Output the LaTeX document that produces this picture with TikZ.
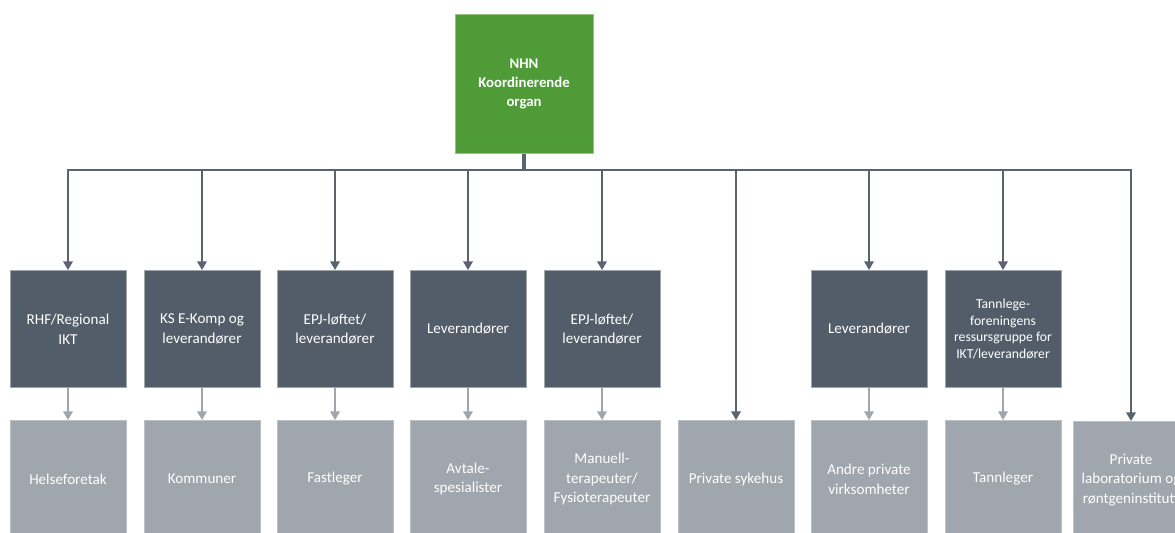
\documentclass[tikz,border=0pt]{standalone}
\usepackage{fontspec}
\setmainfont{Carlito}
\usetikzlibrary{arrows.meta}

\definecolor{nhngreen}{RGB}{79,155,55}
\definecolor{slatebox}{RGB}{82,93,105}
\definecolor{greybox}{RGB}{160,166,173}
\definecolor{linedark}{RGB}{90,100,112}

\begin{document}
\begin{tikzpicture}[x=0.02cm, y=-0.02cm,
    nhnbox/.style={rectangle, fill=nhngreen, draw=nhngreen!60!white, line width=0.5pt, minimum width=2.76cm, minimum height=2.78cm, text=white, align=center, font=\fontsize{8.4}{10.8}\selectfont\bfseries},
    orgbox/.style={rectangle, fill=slatebox, draw=slatebox!55!white, line width=0.5pt, minimum width=2.32cm, minimum height=2.34cm, text=white, align=center, inner sep=1pt, font=\fontsize{8.6}{11.2}\selectfont},
    userbox/.style={orgbox, fill=greybox, draw=greybox!70!white},
    mainarrow/.style={draw=linedark, line width=0.9pt, -{Triangle[length=5pt,width=5.5pt]}},
    subarrow/.style={draw=greybox, line width=0.9pt, -{Triangle[length=5pt,width=5.5pt]}}]
        \useasboundingbox (0,0) rectangle (1175,533);
        \clip (0,0) rectangle (1175,533);

        % coordinating organ
        \node[nhnbox] (nhn) at (524,84) {NHN\\Koordinerende\\organ};
        \coordinate (bus) at (524,170);

        % middle row
        \node[orgbox] (rhf) at (68,329) {RHF/Regional\\IKT};
        \node[orgbox] (ks) at (202,329) {KS E-Komp og\\leverandører};
        \node[orgbox] (epj1) at (335,329) {EPJ-løftet/\\leverandører};
        \node[orgbox] (lev1) at (468,329) {Leverandører};
        \node[orgbox] (epj2) at (602,329) {EPJ-løftet/\\leverandører};
        \node[orgbox] (lev2) at (869,329) {Leverandører};
        \node[orgbox, font=\fontsize{7.8}{9.6}\selectfont] (tann) at (1003,329) {Tannlege-\\foreningens\\ressursgruppe for\\IKT/leverandører};

        % bottom row
        \node[userbox] (hf) at (68,479) {Helseforetak};
        \node[userbox] (kom) at (202,479) {Kommuner};
        \node[userbox] (fast) at (335,479) {Fastleger};
        \node[userbox] (avt) at (468,479) {Avtale-\\spesialister};
        \node[userbox] (fys) at (602,479) {Manuell-\\terapeuter/\\Fysioterapeuter};
        \node[userbox] (syk) at (736,479) {Private sykehus};
        \node[userbox] (andre) at (869,479) {Andre private\\virksomheter};
        \node[userbox] (tl) at (1003,479) {Tannleger};
        \node[userbox] (lab) at (1131,480) {Private\\laboratorium og\\røntgeninstitutt};

        \draw[draw=linedark, line width=2pt] (nhn) -- (bus);
        \draw[mainarrow] (bus) -| (rhf);
        \draw[mainarrow] (bus) -| (ks);
        \draw[mainarrow] (bus) -| (epj1);
        \draw[mainarrow] (bus) -| (lev1);
        \draw[mainarrow] (bus) -| (epj2);
        \draw[mainarrow] (bus) -| (syk);
        \draw[mainarrow] (bus) -| (lev2);
        \draw[mainarrow] (bus) -| (tann);
        \draw[mainarrow] (bus) -| (lab);

        \draw[subarrow] (rhf) -- (hf);
        \draw[subarrow] (ks) -- (kom);
        \draw[subarrow] (epj1) -- (fast);
        \draw[subarrow] (lev1) -- (avt);
        \draw[subarrow] (epj2) -- (fys);
        \draw[subarrow] (lev2) -- (andre);
        \draw[subarrow] (tann) -- (tl);
    \end{tikzpicture}
\end{document}
